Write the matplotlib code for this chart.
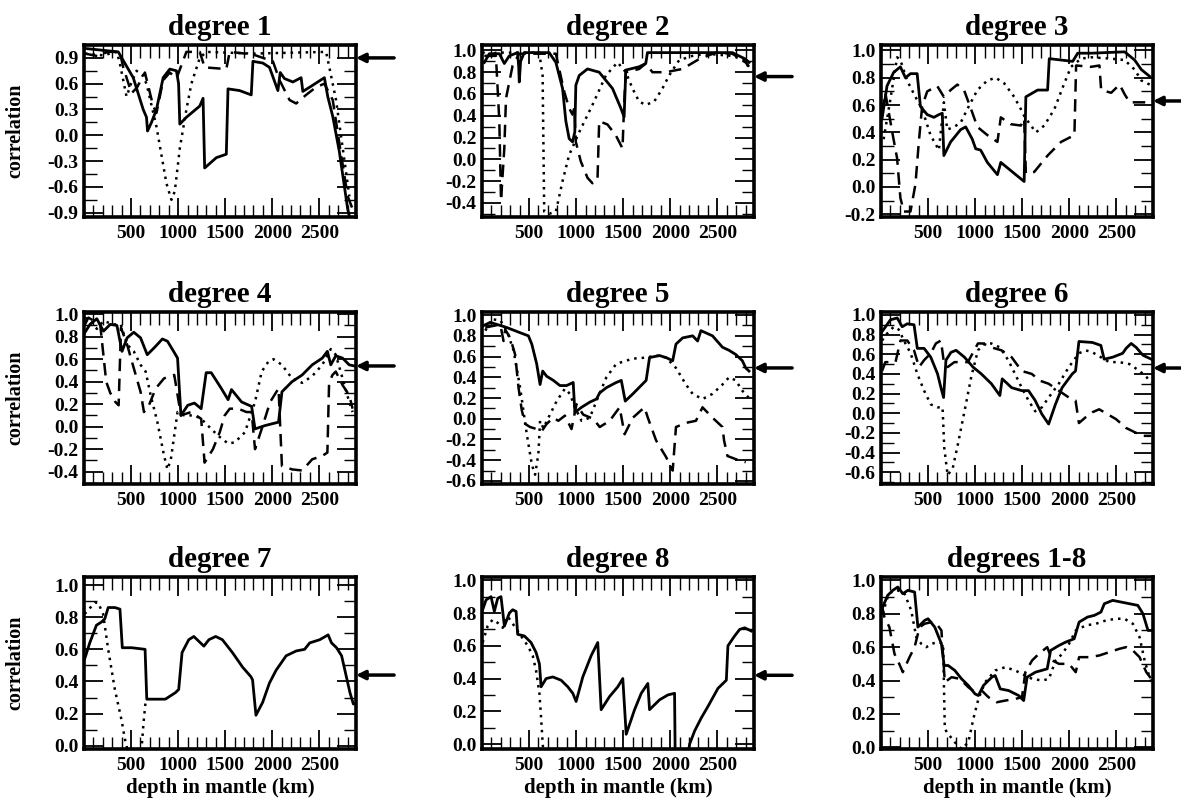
import matplotlib
matplotlib.use("Agg")
import matplotlib.pyplot as plt
from matplotlib.ticker import MultipleLocator, FormatStrFormatter

plt.rcParams['font.family'] = ['Liberation Serif', 'DejaVu Serif']
plt.rcParams['font.weight'] = 'bold'

# ---- data (depth in km, correlation) ----
# degree 1
deg1_solid_x = [10, 364, 523, 629, 664, 675, 717, 770, 841, 912, 982, 1005, 1018, 1088, 1230, 1265, 1282, 1406, 1512, 1530, 1653, 1777, 1795, 1900, 1971, 2060, 2085, 2130, 2219, 2307, 2325, 2413, 2554, 2590, 2643, 2713, 2802, 2820]
deg1_solid_y = [1.01, 0.97, 0.67, 0.30, 0.21, 0.05, 0.15, 0.30, 0.67, 0.77, 0.75, 0.60, 0.13, 0.21, 0.34, 0.43, -0.38, -0.26, -0.22, 0.54, 0.52, 0.47, 0.86, 0.84, 0.79, 0.52, 0.73, 0.66, 0.62, 0.67, 0.51, 0.57, 0.67, 0.45, 0.22, -0.19, -0.86, -0.94]
deg1_dash_x = [10, 150, 250, 380, 417, 505, 560, 647, 735, 770, 841, 912, 982, 1088, 1230, 1282, 1512, 1548, 1795, 2007, 2078, 2184, 2254, 2360, 2466, 2554, 2643, 2731, 2802, 2855]
deg1_dash_y = [0.95, 0.92, 0.97, 0.97, 0.79, 0.49, 0.55, 0.73, 0.34, 0.26, 0.64, 0.73, 0.66, 0.97, 0.97, 0.79, 0.77, 0.97, 0.94, 0.86, 0.64, 0.41, 0.37, 0.47, 0.56, 0.60, 0.41, -0.22, -0.71, -0.86]
deg1_dot_x = [10, 200, 350, 382, 452, 500, 558, 620, 664, 770, 876, 929, 965, 1018, 1088, 1141, 1230, 1300, 1800, 2572, 2607, 2678, 2749, 2820]
deg1_dot_y = [0.95, 0.93, 0.97, 0.83, 0.45, 0.60, 0.75, 0.70, 0.60, 0.10, -0.56, -0.75, -0.65, -0.15, 0.30, 0.60, 0.90, 0.97, 0.95, 0.97, 0.79, 0.41, -0.15, -0.71]

# degree 2
deg2_solid_x = [25, 78, 184, 237, 290, 378, 390, 396, 410, 449, 714, 785, 856, 891, 926, 962, 986, 997, 1033, 1121, 1245, 1387, 1475, 1510, 1528, 1670, 1740, 1758, 1952, 2660, 2801, 2837]
deg2_solid_y = [0.89, 0.97, 0.97, 0.88, 0.95, 0.98, 0.85, 0.71, 0.90, 0.98, 0.98, 0.89, 0.65, 0.35, 0.19, 0.16, 0.25, 0.68, 0.77, 0.83, 0.80, 0.65, 0.47, 0.39, 0.82, 0.85, 0.88, 0.98, 0.98, 0.98, 0.92, 0.89]
deg2_dash_x = [25, 148, 184, 202, 237, 255, 325, 396, 785, 820, 874, 926, 962, 980, 997, 1050, 1121, 1174, 1227, 1245, 1333, 1422, 1475, 1493, 1510, 1528, 1670, 1740, 1811, 1952, 2129, 2306, 2483, 2660, 2801, 2837]
deg2_dash_y = [0.95, 0.95, 0.35, -0.38, 0.10, 0.56, 0.86, 0.97, 0.97, 0.83, 0.62, 0.47, 0.41, 0.47, 0.16, -0.02, -0.17, -0.22, -0.19, 0.35, 0.32, 0.22, 0.13, 0.10, 0.50, 0.80, 0.83, 0.88, 0.80, 0.80, 0.83, 0.92, 0.98, 0.97, 0.89, 0.85]
deg2_dot_x = [10, 42, 150, 608, 644, 661, 714, 785, 856, 926, 1033, 1174, 1316, 1440, 1528, 1599, 1670, 1740, 1829, 1917, 1988, 2094, 2235, 2377, 2660, 2801, 2837]
deg2_dot_y = [0.99, 0.94, 0.98, 0.98, 0.77, -0.48, -0.50, -0.48, -0.20, 0.04, 0.25, 0.50, 0.77, 0.89, 0.80, 0.65, 0.53, 0.50, 0.53, 0.65, 0.77, 0.91, 0.95, 0.97, 0.95, 0.91, 0.83]

# degree 3
deg3_solid_x = [11, 64, 135, 206, 260, 313, 384, 419, 491, 562, 615, 651, 668, 740, 846, 900, 970, 1006, 1059, 1130, 1237, 1273, 1379, 1521, 1539, 1664, 1770, 1788, 1913, 2037, 2090, 2232, 2588, 2695, 2766, 2855]
deg3_solid_y = [0.50, 0.74, 0.84, 0.88, 0.80, 0.83, 0.83, 0.59, 0.53, 0.51, 0.53, 0.54, 0.23, 0.33, 0.42, 0.44, 0.35, 0.28, 0.27, 0.18, 0.09, 0.18, 0.12, 0.04, 0.66, 0.71, 0.71, 0.94, 0.93, 0.92, 0.98, 0.98, 0.99, 0.93, 0.86, 0.81]
deg3_dash_x = [11, 46, 120, 171, 206, 242, 313, 366, 402, 437, 491, 597, 668, 740, 811, 882, 957, 1024, 1130, 1237, 1273, 1379, 1486, 1521, 1539, 1628, 1770, 1913, 2055, 2073, 2232, 2321, 2339, 2446, 2535, 2588, 2641, 2890]
deg3_dash_y = [0.55, 0.69, 0.40, 0.21, -0.08, -0.18, -0.18, 0.02, 0.33, 0.59, 0.70, 0.74, 0.66, 0.71, 0.75, 0.71, 0.57, 0.44, 0.38, 0.33, 0.51, 0.46, 0.45, 0.50, 0.10, 0.11, 0.23, 0.33, 0.38, 0.89, 0.88, 0.89, 0.71, 0.69, 0.75, 0.68, 0.62, 0.62]
deg3_dot_x = [28, 99, 171, 206, 277, 366, 437, 526, 615, 668, 704, 775, 846, 917, 1024, 1130, 1219, 1308, 1415, 1486, 1521, 1593, 1646, 1735, 1842, 1948, 2019, 2126, 2232, 2446, 2588, 2695, 2766, 2855]
deg3_dot_y = [0.35, 0.64, 0.95, 0.93, 0.78, 0.66, 0.57, 0.38, 0.27, 0.62, 0.42, 0.44, 0.47, 0.57, 0.71, 0.78, 0.80, 0.76, 0.66, 0.57, 0.52, 0.45, 0.40, 0.45, 0.57, 0.76, 0.88, 0.94, 0.95, 0.94, 0.93, 0.86, 0.78, 0.75]

# degree 4
deg4_solid_x = [11, 64, 136, 207, 279, 350, 404, 458, 529, 601, 672, 744, 833, 887, 959, 994, 1030, 1102, 1173, 1245, 1298, 1352, 1459, 1531, 1567, 1674, 1781, 1817, 1924, 2067, 2103, 2210, 2318, 2425, 2532, 2586, 2622, 2675, 2747, 2818, 2872]
deg4_solid_y = [0.84, 0.91, 0.96, 0.85, 0.91, 0.90, 0.67, 0.79, 0.84, 0.79, 0.64, 0.70, 0.78, 0.76, 0.66, 0.61, 0.10, 0.19, 0.21, 0.16, 0.48, 0.48, 0.34, 0.24, 0.33, 0.22, 0.18, -0.02, 0.01, 0.04, 0.31, 0.40, 0.46, 0.55, 0.61, 0.67, 0.55, 0.63, 0.61, 0.55, 0.54]
deg4_dash_x = [11, 46, 172, 236, 279, 333, 368, 393, 458, 529, 601, 637, 690, 762, 851, 959, 1030, 1137, 1245, 1281, 1370, 1442, 1495, 1549, 1638, 1727, 1781, 1817, 1888, 1978, 2067, 2103, 2210, 2318, 2425, 2532, 2586, 2604, 2640, 2675, 2747, 2818, 2854]
deg4_dash_y = [0.91, 0.97, 0.91, 0.40, 0.30, 0.22, 0.19, 0.88, 0.73, 0.52, 0.31, 0.13, 0.19, 0.34, 0.43, 0.46, 0.10, 0.13, 0.07, -0.32, -0.20, -0.05, 0.10, 0.16, 0.16, 0.13, 0.13, -0.20, -0.02, 0.22, 0.34, -0.35, -0.38, -0.39, -0.29, -0.26, -0.23, 0.39, 0.46, 0.49, 0.37, 0.28, 0.16]
deg4_dot_x = [11, 80, 136, 207, 315, 390, 458, 529, 601, 655, 708, 780, 851, 887, 923, 994, 1066, 1173, 1245, 1316, 1424, 1531, 1602, 1710, 1817, 1888, 1960, 2014, 2103, 2210, 2318, 2425, 2532, 2622, 2675, 2747, 2818, 2854]
deg4_dot_y = [0.97, 0.93, 0.87, 0.94, 0.91, 0.91, 0.73, 0.67, 0.55, 0.49, 0.28, 0.04, -0.26, -0.38, -0.29, 0.13, 0.10, 0.10, 0.07, 0.01, -0.08, -0.15, -0.14, -0.05, 0.22, 0.49, 0.58, 0.60, 0.55, 0.43, 0.39, 0.45, 0.55, 0.69, 0.64, 0.43, 0.22, 0.13]

# degree 5
deg5_solid_x = [18, 88, 194, 264, 405, 493, 529, 581, 617, 645, 687, 758, 828, 899, 969, 987, 1057, 1145, 1216, 1251, 1322, 1427, 1480, 1522, 1603, 1744, 1780, 1885, 1956, 2026, 2061, 2132, 2238, 2291, 2326, 2449, 2555, 2625, 2696, 2766, 2802, 2837]
deg5_solid_y = [0.90, 0.93, 0.90, 0.88, 0.83, 0.80, 0.72, 0.53, 0.33, 0.46, 0.41, 0.37, 0.32, 0.32, 0.35, 0.06, 0.11, 0.16, 0.19, 0.25, 0.30, 0.35, 0.37, 0.17, 0.24, 0.37, 0.59, 0.61, 0.59, 0.56, 0.72, 0.78, 0.80, 0.75, 0.85, 0.80, 0.69, 0.66, 0.62, 0.56, 0.49, 0.46]
deg5_dash_x = [35, 194, 229, 247, 300, 352, 388, 423, 458, 511, 581, 634, 687, 758, 811, 881, 951, 1004, 1075, 1180, 1251, 1357, 1462, 1515, 1603, 1726, 1762, 1850, 1956, 2026, 2061, 2167, 2273, 2343, 2449, 2555, 2572, 2608, 2696, 2802]
deg5_dash_y = [0.88, 0.91, 0.75, 0.86, 0.78, 0.62, 0.30, 0.08, -0.05, -0.08, -0.10, -0.12, -0.05, 0.01, -0.02, 0.03, -0.10, 0.14, 0.04, 0.00, -0.08, -0.02, 0.11, -0.15, 0.01, 0.11, 0.01, -0.21, -0.37, -0.50, -0.08, -0.04, -0.02, 0.11, 0.01, -0.08, -0.21, -0.36, -0.39, -0.42]
deg5_dot_x = [35, 106, 194, 264, 335, 405, 476, 529, 564, 599, 617, 652, 722, 793, 881, 934, 987, 1057, 1145, 1216, 1322, 1427, 1603, 1744, 1850, 1956, 2061, 2167, 2238, 2343, 2449, 2555, 2625, 2696, 2766, 2837]
deg5_dot_y = [0.85, 0.96, 0.95, 0.85, 0.66, 0.30, -0.15, -0.44, -0.54, -0.34, -0.02, -0.09, 0.04, 0.17, 0.29, 0.24, 0.11, -0.02, 0.01, 0.17, 0.40, 0.53, 0.58, 0.59, 0.61, 0.59, 0.49, 0.33, 0.24, 0.19, 0.24, 0.33, 0.40, 0.37, 0.27, 0.20]

# degree 6
deg6_solid_x = [11, 100, 172, 225, 279, 351, 386, 458, 529, 601, 637, 665, 690, 744, 798, 887, 977, 1066, 1173, 1263, 1288, 1388, 1495, 1567, 1638, 1710, 1781, 1853, 1924, 2032, 2067, 2103, 2246, 2336, 2371, 2461, 2568, 2604, 2658, 2711, 2783, 2872]
deg6_solid_y = [0.83, 0.95, 0.97, 0.88, 0.91, 0.90, 0.66, 0.66, 0.57, 0.40, 0.26, 0.16, 0.54, 0.62, 0.64, 0.57, 0.47, 0.40, 0.30, 0.18, 0.35, 0.26, 0.23, 0.23, 0.13, -0.01, -0.11, 0.09, 0.26, 0.40, 0.43, 0.73, 0.72, 0.69, 0.55, 0.57, 0.61, 0.66, 0.71, 0.67, 0.59, 0.55]
deg6_dash_x = [11, 46, 154, 207, 279, 351, 404, 458, 529, 583, 637, 665, 708, 780, 851, 923, 1030, 1084, 1173, 1281, 1388, 1495, 1602, 1692, 1781, 1889, 1996, 2067, 2103, 2175, 2246, 2318, 2407, 2497, 2604, 2711, 2783, 2872]
deg6_dash_y = [0.43, 0.52, 0.52, 0.74, 0.74, 0.64, 0.47, 0.54, 0.61, 0.71, 0.74, 0.54, 0.47, 0.52, 0.52, 0.52, 0.71, 0.71, 0.67, 0.64, 0.57, 0.43, 0.40, 0.33, 0.30, 0.23, 0.16, 0.13, -0.10, -0.04, 0.01, 0.04, -0.01, -0.06, -0.15, -0.20, -0.23, -0.23]
deg6_dot_x = [11, 64, 136, 190, 243, 315, 386, 458, 529, 601, 654, 672, 708, 762, 816, 887, 959, 1030, 1102, 1173, 1263, 1352, 1424, 1495, 1567, 1638, 1710, 1781, 1889, 1996, 2103, 2175, 2246, 2336, 2425, 2532, 2640, 2747, 2819, 2872]
deg6_dot_y = [0.74, 0.81, 0.88, 0.85, 0.74, 0.61, 0.40, 0.23, 0.09, 0.06, 0.06, -0.35, -0.63, -0.56, -0.32, 0.02, 0.37, 0.64, 0.71, 0.71, 0.67, 0.54, 0.40, 0.26, 0.13, 0.02, 0.06, 0.16, 0.30, 0.47, 0.61, 0.64, 0.62, 0.57, 0.52, 0.52, 0.50, 0.43, 0.37, 0.31]

# degree 7
deg7_solid_x = [7, 61, 132, 186, 221, 257, 328, 382, 407, 507, 649, 667, 756, 864, 970, 1006, 1042, 1113, 1167, 1220, 1274, 1327, 1399, 1470, 1577, 1684, 1773, 1791, 1827, 1898, 1970, 2041, 2148, 2255, 2344, 2398, 2505, 2594, 2630, 2683, 2737, 2772, 2826, 2862, 2890]
deg7_solid_y = [0.54, 0.64, 0.75, 0.77, 0.79, 0.86, 0.86, 0.85, 0.61, 0.61, 0.60, 0.29, 0.29, 0.29, 0.33, 0.35, 0.58, 0.66, 0.68, 0.65, 0.62, 0.66, 0.68, 0.66, 0.58, 0.49, 0.43, 0.41, 0.19, 0.27, 0.39, 0.47, 0.56, 0.59, 0.60, 0.64, 0.66, 0.69, 0.64, 0.61, 0.56, 0.47, 0.33, 0.26, 0.26]
deg7_dot_x = [7, 114, 150, 203, 257, 328, 399, 435, 453, 480, 590, 614, 632, 657]
deg7_dot_y = [0.82, 0.89, 0.89, 0.82, 0.60, 0.35, 0.16, 0.04, 0.00, -0.10, -0.10, 0.00, 0.14, 0.29]

# degree 8
deg8_solid_x = [7, 43, 96, 131, 167, 202, 238, 291, 326, 362, 379, 450, 521, 574, 610, 628, 681, 752, 840, 911, 965, 1000, 1071, 1160, 1230, 1266, 1355, 1443, 1496, 1532, 1621, 1692, 1762, 1780, 1886, 1975, 2046, 2053, 2180, 2206, 2259, 2330, 2401, 2507, 2578, 2596, 2613, 2684, 2738, 2791, 2862]
deg8_solid_y = [0.82, 0.88, 0.90, 0.81, 0.89, 0.90, 0.72, 0.80, 0.82, 0.81, 0.67, 0.66, 0.62, 0.56, 0.49, 0.35, 0.40, 0.41, 0.39, 0.35, 0.31, 0.26, 0.41, 0.54, 0.62, 0.21, 0.29, 0.35, 0.40, 0.06, 0.21, 0.31, 0.37, 0.21, 0.27, 0.30, 0.31, -0.10, -0.10, 0.00, 0.08, 0.16, 0.23, 0.34, 0.38, 0.39, 0.60, 0.66, 0.70, 0.71, 0.69]
deg8_dot_x = [7, 60, 113, 167, 220, 273, 344, 415, 486, 539, 574, 610, 628, 645, 660]
deg8_dot_y = [0.62, 0.72, 0.76, 0.74, 0.71, 0.78, 0.72, 0.66, 0.60, 0.54, 0.45, 0.31, 0.16, 0.00, -0.10]

# degrees 1-8
all_solid_x = [18, 71, 125, 178, 232, 285, 357, 392, 464, 500, 571, 642, 671, 714, 785, 856, 928, 999, 1035, 1088, 1177, 1213, 1267, 1356, 1463, 1516, 1552, 1641, 1766, 1802, 1891, 1962, 2052, 2105, 2194, 2266, 2337, 2373, 2462, 2551, 2640, 2729, 2783, 2837, 2872]
all_solid_y = [0.84, 0.91, 0.94, 0.96, 0.92, 0.94, 0.93, 0.72, 0.76, 0.77, 0.72, 0.62, 0.49, 0.49, 0.46, 0.41, 0.37, 0.32, 0.31, 0.37, 0.42, 0.43, 0.35, 0.34, 0.31, 0.28, 0.42, 0.45, 0.47, 0.58, 0.61, 0.63, 0.65, 0.75, 0.78, 0.79, 0.81, 0.86, 0.88, 0.87, 0.86, 0.85, 0.80, 0.70, 0.70]
all_dash_x = [10, 36, 89, 143, 178, 232, 303, 357, 410, 464, 535, 589, 642, 678, 750, 839, 928, 999, 1070, 1142, 1231, 1320, 1427, 1498, 1534, 1605, 1677, 1766, 1820, 1891, 1998, 2069, 2105, 2212, 2319, 2426, 2533, 2605, 2676, 2747, 2819, 2872]
all_dash_y = [0.85, 0.78, 0.72, 0.56, 0.52, 0.45, 0.54, 0.60, 0.72, 0.74, 0.75, 0.74, 0.70, 0.39, 0.42, 0.41, 0.36, 0.33, 0.34, 0.30, 0.27, 0.28, 0.29, 0.30, 0.45, 0.52, 0.56, 0.60, 0.52, 0.50, 0.50, 0.45, 0.54, 0.54, 0.55, 0.57, 0.59, 0.60, 0.58, 0.54, 0.45, 0.41]
all_dot_x = [18, 71, 125, 178, 250, 321, 375, 428, 482, 535, 607, 660, 678, 714, 785, 856, 928, 981, 1035, 1106, 1213, 1320, 1427, 1534, 1605, 1713, 1784, 1855, 1926, 1998, 2069, 2176, 2284, 2391, 2498, 2587, 2676, 2747, 2801, 2837, 2872]
all_dot_y = [0.80, 0.90, 0.94, 0.94, 0.92, 0.82, 0.66, 0.62, 0.60, 0.62, 0.63, 0.62, 0.11, 0.08, 0.03, -0.01, 0.03, 0.17, 0.29, 0.39, 0.46, 0.48, 0.46, 0.43, 0.41, 0.40, 0.41, 0.52, 0.56, 0.62, 0.70, 0.73, 0.74, 0.76, 0.77, 0.77, 0.74, 0.66, 0.52, 0.45, 0.39]

titles = ["degree 1", "degree 2", "degree 3", "degree 4", "degree 5",
          "degree 6", "degree 7", "degree 8", "degrees 1-8"]
y_limits = [(-0.95, 1.05), (-0.53, 1.05), (-0.22, 1.04), (-0.51, 1.02), (-0.63, 1.03),
            (-0.72, 1.03), (-0.02, 1.05), (-0.03, 1.02), (-0.01, 1.02)]
y_label_ticks = [[-0.9, -0.6, -0.3, 0.0, 0.3, 0.6, 0.9],
                 [-0.4, -0.2, 0.0, 0.2, 0.4, 0.6, 0.8, 1.0],
                 [-0.2, 0.0, 0.2, 0.4, 0.6, 0.8, 1.0],
                 [-0.4, -0.2, 0.0, 0.2, 0.4, 0.6, 0.8, 1.0],
                 [-0.6, -0.4, -0.2, 0.0, 0.2, 0.4, 0.6, 0.8, 1.0],
                 [-0.6, -0.4, -0.2, 0.0, 0.2, 0.4, 0.6, 0.8, 1.0],
                 [0.0, 0.2, 0.4, 0.6, 0.8, 1.0],
                 [0.0, 0.2, 0.4, 0.6, 0.8, 1.0],
                 [0.0, 0.2, 0.4, 0.6, 0.8, 1.0]]
y_minor_step = [0.15, 0.1, 0.1, 0.1, 0.1, 0.1, 0.1, 0.1, 0.1]
# correlation marked by the arrow on the right side (None = no arrow)
arrow_values = [0.90, 0.76, 0.63, 0.54, 0.49, 0.46, 0.44, 0.42, None]

curves = [
    [(deg1_solid_x, deg1_solid_y, '-'), (deg1_dash_x, deg1_dash_y, '--'), (deg1_dot_x, deg1_dot_y, ':')],
    [(deg2_solid_x, deg2_solid_y, '-'), (deg2_dash_x, deg2_dash_y, '--'), (deg2_dot_x, deg2_dot_y, ':')],
    [(deg3_solid_x, deg3_solid_y, '-'), (deg3_dash_x, deg3_dash_y, '--'), (deg3_dot_x, deg3_dot_y, ':')],
    [(deg4_solid_x, deg4_solid_y, '-'), (deg4_dash_x, deg4_dash_y, '--'), (deg4_dot_x, deg4_dot_y, ':')],
    [(deg5_solid_x, deg5_solid_y, '-'), (deg5_dash_x, deg5_dash_y, '--'), (deg5_dot_x, deg5_dot_y, ':')],
    [(deg6_solid_x, deg6_solid_y, '-'), (deg6_dash_x, deg6_dash_y, '--'), (deg6_dot_x, deg6_dot_y, ':')],
    [(deg7_solid_x, deg7_solid_y, '-'), (deg7_dot_x, deg7_dot_y, ':')],
    [(deg8_solid_x, deg8_solid_y, '-'), (deg8_dot_x, deg8_dot_y, ':')],
    [(all_solid_x, all_solid_y, '-'), (all_dash_x, all_dash_y, '--'), (all_dot_x, all_dot_y, ':')],
]

fig = plt.figure(figsize=(11.81, 8.01), dpi=100)

# panel positions in pixels (left, top) for the 3x3 grid
col_left = [84, 482, 881]
row_top = [45, 312, 577]
W, H = 272, 172
FW, FH = 1181, 801

for i in range(9):
    r, c = divmod(i, 3)
    ax = fig.add_axes([col_left[c] / FW, 1 - (row_top[r] + H) / FH, W / FW, H / FH])

    for xs, ys, ls in curves[i]:
        if ls == '--':
            ax.plot(xs, ys, color='k', lw=1.8, dashes=(5, 3))
        elif ls == ':':
            ax.plot(xs, ys, color='k', lw=1.8, dashes=(1, 2))
        else:
            ax.plot(xs, ys, color='k', lw=2.0)

    ax.set_xlim(0, 2890)
    ax.set_ylim(*y_limits[i])
    ax.set_xticks([500, 1000, 1500, 2000, 2500])
    ax.xaxis.set_minor_locator(MultipleLocator(100))
    ax.set_yticks(y_label_ticks[i])
    ax.yaxis.set_minor_locator(MultipleLocator(y_minor_step[i]))
    ax.yaxis.set_major_formatter(FormatStrFormatter('%.1f'))
    ax.tick_params(which='major', direction='in', top=True, right=True,
                   length=14, width=1.3, labelsize=14, pad=4)
    ax.tick_params(which='minor', direction='in', top=True, right=True,
                   length=9, width=1.0)
    ax.tick_params(axis='x', which='major', pad=6)
    for lab in ax.get_xticklabels() + ax.get_yticklabels():
        lab.set_fontweight('bold')
    for sp in ax.spines.values():
        sp.set_linewidth(2.6)

    ax.set_title(titles[i], fontsize=21, fontweight='bold', pad=7)

    if c == 0:
        ax.set_ylabel('correlation', fontsize=14.5, fontweight='bold')
        ax.yaxis.set_label_coords(-0.215, 0.5)
    if r == 2:
        ax.set_xlabel('depth in mantle (km)', fontsize=15, fontweight='bold', labelpad=3)

    if arrow_values[i] is not None:
        ax.annotate('', xy=(1.0, arrow_values[i]), xycoords=('axes fraction', 'data'),
                    xytext=(1.14, arrow_values[i]), textcoords=('axes fraction', 'data'),
                    arrowprops=dict(arrowstyle='-|>', color='k', lw=2.5, mutation_scale=13,
                                    shrinkA=0, shrinkB=0),
                    annotation_clip=False)

fig.savefig('out.png', dpi=100)
